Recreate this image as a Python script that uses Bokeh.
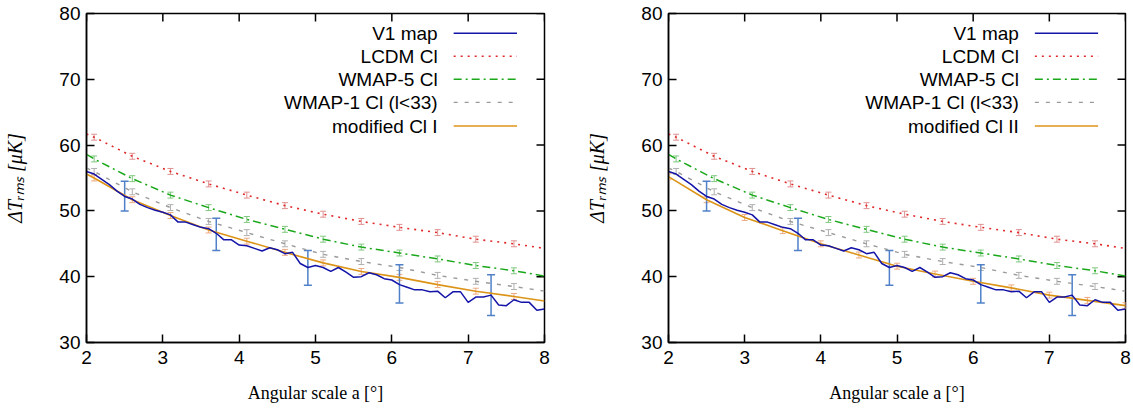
import numpy as np
from bokeh.plotting import figure
from bokeh.models import Range1d, FixedTicker, Whisker, TeeHead, ColumnDataSource, Label
from bokeh.layouts import row
from bokeh.embed import file_html
from bokeh.resources import INLINE

# ---------------- data ----------------
angle_v1 = [2.0, 2.1, 2.2, 2.3, 2.4, 2.5, 2.6, 2.7, 2.8, 2.9,
            3.0, 3.1, 3.2, 3.3, 3.4, 3.5, 3.6, 3.7, 3.8, 3.9,
            4.0, 4.1, 4.2, 4.3, 4.4, 4.5, 4.6, 4.7, 4.8, 4.9,
            5.0, 5.1, 5.2, 5.3, 5.4, 5.5, 5.6, 5.7, 5.8, 5.9,
            6.0, 6.1, 6.2, 6.3, 6.4, 6.5, 6.6, 6.7, 6.8, 6.9,
            7.0, 7.1, 7.2, 7.3, 7.4, 7.5, 7.6, 7.7, 7.8, 7.9, 8.0]
v1_map = [56.0, 55.6, 54.8, 54.0, 53.0, 52.2, 51.8, 51.0, 50.5, 50.1,
          49.8, 49.4, 48.3, 48.3, 47.9, 47.5, 47.3, 46.6, 45.6, 45.6,
          44.8, 44.7, 44.3, 43.9, 44.4, 44.1, 43.5, 43.7, 42.0, 41.4,
          41.7, 41.4, 40.8, 41.4, 40.7, 39.9, 40.0, 40.6, 40.3, 39.7,
          39.5, 38.8, 38.4, 38.0, 38.0, 37.7, 37.8, 36.8, 37.7, 37.7,
          36.1, 36.9, 36.9, 37.2, 35.7, 35.6, 36.5, 36.1, 36.1, 34.9, 35.1]
v1_err_x = [2.5, 3.7, 4.9, 6.1, 7.3]
v1_err_lo = [50.0, 44.0, 38.7, 36.0, 34.1]
v1_err_hi = [54.5, 48.9, 44.0, 41.8, 40.3]

angle_model = [2.0, 2.1, 2.6, 3.1, 3.6, 4.1, 4.6, 5.1, 5.6, 6.1, 6.6, 7.1, 7.6, 8.0]
lcdm_cl = [61.7, 61.2, 58.3, 56.0, 54.1, 52.4, 50.8, 49.5, 48.4, 47.5, 46.7, 45.7, 45.0, 44.3]
wmap5_cl = [58.6, 57.9, 54.9, 52.4, 50.5, 48.7, 47.2, 45.7, 44.5, 43.6, 42.7, 41.7, 40.9, 40.1]
wmap1_cl = [56.5, 56.0, 52.9, 50.5, 48.4, 46.7, 45.0, 43.4, 42.3, 41.4, 40.2, 39.3, 38.5, 37.8]
modified_cl_1 = [55.6, 55.0, 51.7, 49.3, 47.1, 45.4, 43.7, 42.1, 40.8, 39.9, 38.8, 37.8, 37.0, 36.3]
model_err = [0.45] * len(angle_model)

angle_mod2 = [2.0, 2.5, 3.0, 3.5, 4.0, 4.5, 5.0, 5.5, 6.0, 6.5, 7.0, 7.5, 8.0]
modified_cl_2 = [55.2, 51.7, 49.0, 47.0, 45.0, 43.3, 41.6, 40.4, 39.3, 38.3, 37.2, 36.4, 35.6]
mod2_err = [0.45] * len(angle_mod2)

x_ticks = [2, 3, 4, 5, 6, 7, 8]
y_ticks = [30, 40, 50, 60, 70, 80]
series_labels = ["V1 map", "LCDM Cl", "WMAP-5 Cl", "WMAP-1 Cl (l<33)"]
x_label = "Angular scale a [°]"
y_label = "ΔTᵣₘₛ [μK]"

# ---------------- styles ----------------
X_MIN, X_MAX = 2, 8
Y_MIN, Y_MAX = 30, 80
C_BLUE = "#1414a8"
C_BLUE_ERR = "#4f80c8"
C_RED = "#e02828"
C_RED_ERR = "#e09090"
C_GREEN = "#1aa81a"
C_GREEN_ERR = "#80c880"
C_GRAY = "#9a9a9a"
C_GRAY_ERR = "#b0b0b0"
C_ORANGE = "#dc9418"
C_ORANGE_ERR = "#eeaa80"
SANS = "Liberation Sans"
SERIF = "Liberation Serif"


def whisk(p, x, y, err, color, width=1.0, size=6):
    lo = [a - e for a, e in zip(y, err)]
    hi = [a + e for a, e in zip(y, err)]
    src = ColumnDataSource(dict(x=x, lo=lo, hi=hi))
    w = Whisker(base="x", lower="lo", upper="hi", source=src,
                line_color=color, line_width=width,
                upper_head=TeeHead(size=size, line_color=color, line_width=width),
                lower_head=TeeHead(size=size, line_color=color, line_width=width))
    p.add_layout(w)


def panel(orange_x, orange_y, orange_err, orange_bars_all, orange_label,
          border_left, frame_w, border_right):
    p = figure(frame_width=frame_w, frame_height=329,
               min_border_left=border_left, min_border_right=border_right,
               min_border_top=13, min_border_bottom=62,
               x_range=Range1d(X_MIN, X_MAX), y_range=Range1d(Y_MIN, Y_MAX),
               output_backend="svg", toolbar_location=None,
               background_fill_color="white", border_fill_color="white")
    p.grid.visible = False
    p.outline_line_color = "black"
    p.outline_line_width = 1.5

    for ax in (p.xaxis[0], p.yaxis[0]):
        ax.major_tick_in = 8
        ax.major_tick_out = 0
        ax.minor_tick_line_color = None
        ax.axis_line_color = "black"
        ax.axis_line_width = 1.5
        ax.major_tick_line_width = 1.5
        ax.major_label_text_font = SANS
        ax.major_label_text_font_size = "19px"
        ax.major_label_text_color = "black"
        ax.axis_label_text_font = SERIF
        ax.axis_label_text_font_size = "18px"
        ax.axis_label_text_color = "black"
    p.xaxis.ticker = FixedTicker(ticks=x_ticks)
    p.yaxis.ticker = FixedTicker(ticks=y_ticks)
    p.xaxis.major_label_standoff = 8
    p.yaxis.major_label_standoff = 6
    p.xaxis.axis_label = x_label
    p.xaxis.axis_label_text_font_style = "normal"
    p.xaxis.axis_label_standoff = 16
    p.yaxis.axis_label = y_label
    p.yaxis.axis_label_text_font_style = "italic"
    p.yaxis.axis_label_text_font_size = "20px"
    p.yaxis.axis_label_standoff = 30

    # mirrored inward ticks on top and right borders
    p.ray(x=x_ticks, y=[Y_MAX] * len(x_ticks), length=8, length_units="screen",
          angle=-np.pi / 2, line_color="black", line_width=1.5)
    p.ray(x=[X_MAX] * len(y_ticks), y=y_ticks, length=8, length_units="screen",
          angle=np.pi, line_color="black", line_width=1.5)

    # error bars
    whisk(p, angle_model[1:-1], lcdm_cl[1:-1], model_err[1:-1], C_RED_ERR)
    whisk(p, angle_model[1:-1], wmap5_cl[1:-1], model_err[1:-1], C_GREEN_ERR)
    whisk(p, angle_model[1:-1], wmap1_cl[1:-1], model_err[1:-1], C_GRAY_ERR)
    if orange_bars_all:
        whisk(p, orange_x, orange_y, orange_err, C_ORANGE_ERR)
    else:
        whisk(p, orange_x[1:-1], orange_y[1:-1], orange_err[1:-1], C_ORANGE_ERR)
    v1_mid = [(a + b) / 2 for a, b in zip(v1_err_lo, v1_err_hi)]
    v1_half = [(b - a) / 2 for a, b in zip(v1_err_lo, v1_err_hi)]
    whisk(p, v1_err_x, v1_mid, v1_half, C_BLUE_ERR, width=1.5, size=8)

    # curves
    p.line(angle_model, lcdm_cl, line_color=C_RED, line_width=1.6, line_dash="2 5")
    p.line(angle_model, wmap5_cl, line_color=C_GREEN, line_width=1.5, line_dash="8 4 2 4")
    p.line(angle_model, wmap1_cl, line_color=C_GRAY, line_width=1.4, line_dash="4 7")
    p.line(orange_x, orange_y, line_color=C_ORANGE, line_width=1.6)
    p.line(angle_v1, v1_map, line_color=C_BLUE, line_width=1.5)

    # legend (text right-aligned, sample to the right)
    rows_y = [77.0, 73.5, 70.0, 66.5, 62.9]
    labels = series_labels + [orange_label]
    styles = [(C_BLUE, None, 1.5), (C_RED, "2 5", 1.6), (C_GREEN, "8 4 2 4", 1.5),
              (C_GRAY, "4 7", 1.4), (C_ORANGE, None, 1.6)]
    for yy, lab, (col, dash, lw) in zip(rows_y, labels, styles):
        p.add_layout(Label(x=6.60, y=yy, text=lab, text_align="right", text_baseline="middle",
                           text_font=SANS, text_font_size="19px", text_color="black"))
        kw = dict(line_color=col, line_width=lw)
        if dash:
            kw["line_dash"] = dash
        p.line([6.81, 7.64], [yy, yy], **kw)
    return p


p1 = panel(angle_model, modified_cl_1, model_err, False, "modified Cl I", 86, 458, 39)
p2 = panel(angle_mod2, modified_cl_2, mod2_err, True, "modified Cl II", 78, 457, 10)
layout = row(p1, p2)

open("out.html", "w").write(file_html(layout, INLINE))
